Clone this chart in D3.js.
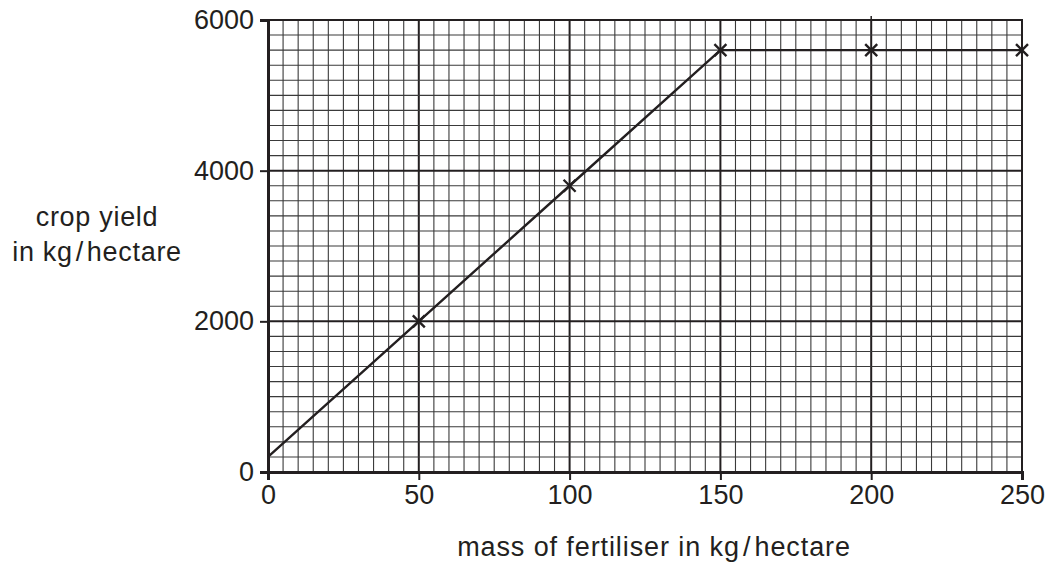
<!DOCTYPE html>
<html>
<head>
<meta charset="utf-8">
<script src="https://cdn.jsdelivr.net/npm/d3@7"></script>
<style>
  body { margin: 0; background: #fff; }
  svg text { font-family: "Liberation Sans", Arial, sans-serif; fill: #231f20; }
</style>
</head>
<body>
<svg id="chart" width="1054" height="566"></svg>
<script>
// data
var fertiliser = [0, 50, 100, 150, 200, 250];
var yieldVals = [200, 2000, 3800, 5600, 5600, 5600];
var plotted = [50, 100, 150, 200, 250]; // x values marked with a cross
var xTicks = [0, 50, 100, 150, 200, 250];
var yTicks = [0, 2000, 4000, 6000];

var svg = d3.select('#chart');
var ink = '#231f20';

var x = d3.scaleLinear().domain([0, 250]).range([268, 1022]);
var y = d3.scaleLinear().domain([0, 6000]).range([472, 20]);

var grid = svg.append('g');
// minor grid every 5 kg and 200 kg/ha
d3.range(5, 250, 5).forEach(function(v){
  var major = v % 50 === 0;
  grid.append('line')
    .attr('x1', x(v)).attr('x2', x(v))
    .attr('y1', y(0)).attr('y2', y(6000))
    .attr('stroke', major ? ink : '#3a3a3a')
    .attr('stroke-width', major ? 2 : 1.1);
});
d3.range(200, 6000, 200).forEach(function(v){
  var major = v % 2000 === 0;
  grid.append('line')
    .attr('x1', x(0)).attr('x2', x(250))
    .attr('y1', y(v)).attr('y2', y(v))
    .attr('stroke', major ? ink : '#3a3a3a')
    .attr('stroke-width', major ? 2 : 1.1);
});
// small tick above frame at 200
grid.append('line')
  .attr('x1', x(200)).attr('x2', x(200))
  .attr('y1', y(6000)).attr('y2', y(6000) - 4)
  .attr('stroke', ink).attr('stroke-width', 1.5);

// frame
svg.append('rect')
  .attr('x', x(0)).attr('y', y(6000))
  .attr('width', x(250) - x(0)).attr('height', y(0) - y(6000))
  .attr('fill', 'none').attr('stroke', ink).attr('stroke-width', 2);

// axes
var xAxis = svg.append('g')
  .attr('transform', 'translate(0,' + y(0) + ')')
  .call(d3.axisBottom(x).tickValues(xTicks).tickSize(8).tickPadding(5));
var yAxis = svg.append('g')
  .attr('transform', 'translate(' + x(0) + ',0)')
  .call(d3.axisLeft(y).tickValues(yTicks).tickSize(8).tickPadding(6).tickFormat(d3.format('d')));
[xAxis, yAxis].forEach(function(a){
  a.select('.domain').attr('stroke', ink).attr('stroke-width', 3);
  a.selectAll('.tick line').attr('stroke', ink).attr('stroke-width', 2);
  a.selectAll('.tick text').attr('font-size', 27).attr('fill', ink)
    .style('font-family', '"Liberation Sans", Arial, sans-serif');
});

// data line
var line = d3.line()
  .x(function(d, i){ return x(fertiliser[i]); })
  .y(function(d){ return y(d); });
svg.append('path')
  .datum(yieldVals)
  .attr('d', line)
  .attr('fill', 'none')
  .attr('stroke', ink)
  .attr('stroke-width', 2.4);

// crosses
var s = 6;
plotted.forEach(function(v){
  var i = fertiliser.indexOf(v);
  var cx = x(v), cy = y(yieldVals[i]);
  svg.append('path')
    .attr('d', 'M' + (cx - s) + ',' + (cy - s) + 'L' + (cx + s) + ',' + (cy + s) +
               'M' + (cx - s) + ',' + (cy + s) + 'L' + (cx + s) + ',' + (cy - s))
    .attr('stroke', ink).attr('stroke-width', 2.4).attr('fill', 'none');
});

// axis titles
var yt = svg.append('text').attr('text-anchor', 'middle').attr('font-size', 27)
  .style('letter-spacing', '0.7px');
yt.append('tspan').attr('x', 97).attr('y', 226).text('crop yield');
yt.append('tspan').attr('x', 97).attr('y', 261).text('in kg\u200a/\u200ahectare');

svg.append('text')
  .attr('x', 654).attr('y', 556)
  .attr('text-anchor', 'middle').attr('font-size', 27)
  .style('letter-spacing', '0.9px')
  .text('mass of fertiliser in kg\u200a/\u200ahectare');
</script>
</body>
</html>
